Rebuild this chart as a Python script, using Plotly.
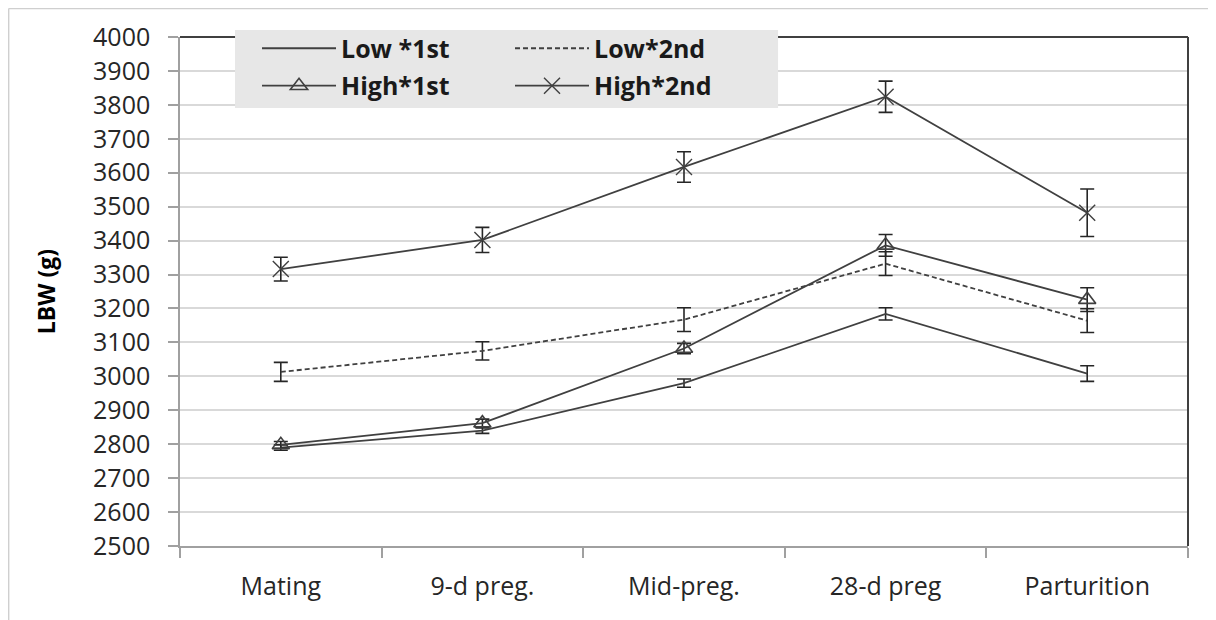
import plotly.graph_objects as go

categories = ["Mating", "9-d preg.", "Mid-preg.", "28-d preg", "Parturition"]

low_1st = [2790, 2840, 2980, 3184, 3008]
low_1st_err = [8, 8, 12, 18, 23]

low_2nd = [3013, 3075, 3167, 3332, 3164]
low_2nd_err = [28, 27, 35, 35, 35]

high_1st = [2798, 2862, 3082, 3386, 3226]
high_1st_err = [10, 12, 15, 32, 35]

high_2nd = [3316, 3402, 3617, 3824, 3482]
high_2nd_err = [35, 37, 45, 46, 70]

y_ticks = list(range(2500, 4001, 100))

LINE = "#404040"
ERR = "#262626"
FONT = "Open Sans"


def err(vals):
    return dict(type="data", array=vals, visible=True, color=ERR, thickness=1.6, width=7)


fig = go.Figure()
fig.add_trace(go.Scatter(
    x=categories, y=low_1st, name="Low *1st", mode="lines",
    line=dict(color=LINE, width=1.8), error_y=err(low_1st_err), legend="legend"))
fig.add_trace(go.Scatter(
    x=categories, y=low_2nd, name="Low*2nd", mode="lines",
    line=dict(color=LINE, width=1.8, dash="5px,3px"), error_y=err(low_2nd_err), legend="legend"))
fig.add_trace(go.Scatter(
    x=categories, y=high_1st, name="High*1st", mode="lines+markers",
    line=dict(color=LINE, width=1.8),
    marker=dict(symbol="triangle-up-open", size=15, color=LINE, line=dict(width=1.6, color=LINE)),
    error_y=err(high_1st_err), legend="legend2"))
fig.add_trace(go.Scatter(
    x=categories, y=high_2nd, name="High*2nd", mode="lines+markers",
    line=dict(color=LINE, width=1.8),
    marker=dict(symbol="x-thin-open", size=16, color=LINE, line=dict(width=1.4, color=LINE)),
    error_y=err(high_2nd_err), legend="legend2"))

legend_common = dict(
    orientation="h", xanchor="left", yanchor="top", x=0.0764,
    bgcolor="rgba(0,0,0,0)", borderwidth=0,
    font=dict(family=FONT, size=25, color="#1a1a1a", weight="bold"),
    entrywidth=164, entrywidthmode="pixels", itemwidth=74,
    traceorder="normal",
)

fig.update_layout(
    width=1208, height=612,
    margin=dict(l=172, r=28, t=29, b=74, autoexpand=False),
    paper_bgcolor="white", plot_bgcolor="white",
    font=dict(family=FONT, color="#262626"),
    showlegend=True,
    legend=dict(**legend_common, y=1.0226),
    legend2=dict(**legend_common, y=0.949),
    xaxis=dict(
        type="category", range=[-0.5, 4.5], tickson="boundaries",
        ticks="outside", ticklen=10, tickcolor="#a0a0a0", tickwidth=1.5,
        showline=True, linecolor="#a0a0a0", linewidth=1.5,
        showgrid=False, zeroline=False,
        tickfont=dict(family=FONT, size=25, color="#262626"),
        ticklabelstandoff=17,
    ),
    yaxis=dict(
        range=[2500, 4000], tickvals=y_ticks,
        ticks="outside", ticklen=10, tickcolor="#a0a0a0", tickwidth=1.5,
        showline=True, linecolor="#a0a0a0", linewidth=1.5,
        showgrid=True, gridcolor="#d9d9d9", gridwidth=1.5, zeroline=False,
        tickfont=dict(family=FONT, size=25, color="#262626"),
        ticklabelstandoff=13,
        title=dict(text="LBW (g)", font=dict(family=FONT, size=23, color="#000000", weight="bold"),
                   standoff=31),
    ),
    shapes=[
        dict(type="line", xref="paper", yref="paper", x0=0, x1=1, y0=1, y1=1,
             line=dict(color="#404040", width=2), layer="above"),
        dict(type="line", xref="paper", yref="paper", x0=1, x1=1, y0=0, y1=1,
             line=dict(color="#404040", width=2), layer="above"),
        dict(type="rect", xref="paper", yref="paper", x0=0.0546, x1=0.5933, y0=0.8605, y1=1.0138,
             fillcolor="#e7e7e7", line=dict(width=0), layer="above"),
        dict(type="line", xref="paper", yref="paper", x0=-0.170, x1=1.1, y0=1.056, y1=1.056,
             line=dict(color="#cfcfcf", width=1.5)),
        dict(type="line", xref="paper", yref="paper", x0=-0.170, x1=-0.170, y0=-0.2, y1=1.056,
             line=dict(color="#cfcfcf", width=1.5)),
    ],
)

fig.write_html("out.html")
